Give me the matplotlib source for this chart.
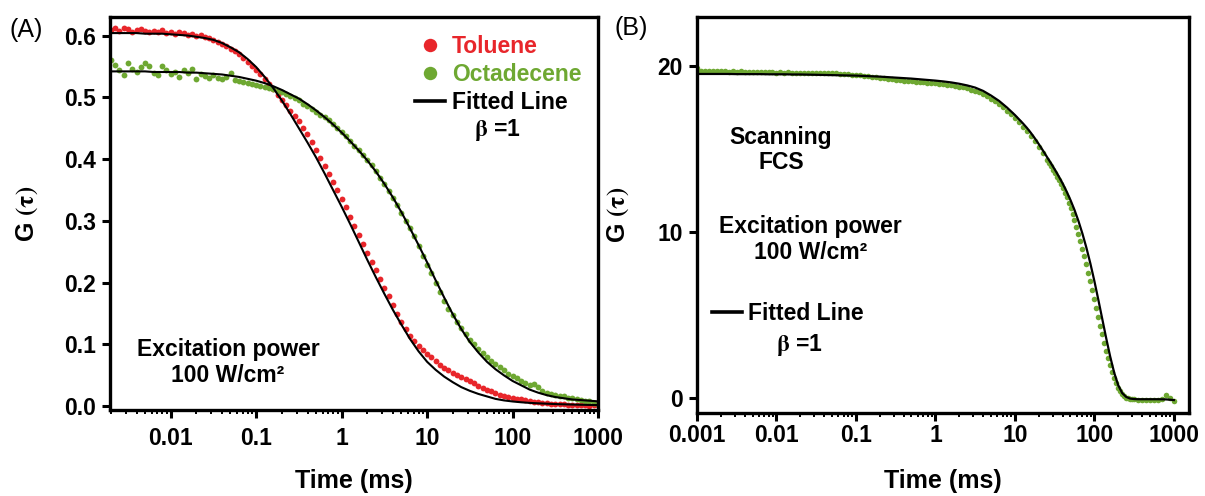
import matplotlib.pyplot as plt
import numpy as np
from matplotlib.ticker import FixedLocator, LogLocator, NullFormatter

plt.rcParams['font.family'] = 'Liberation Sans'
plt.rcParams['font.weight'] = 'bold'
plt.rcParams['axes.labelweight'] = 'bold'
plt.rcParams['mathtext.fontset'] = 'stix'

RED = '#e8262b'
GREEN = '#6ea832'

# ---- (A) confocal FCS, log10 of lag time in ms ----
lag_a_log = [
    -2.70, -2.65, -2.60, -2.55, -2.50, -2.45, -2.40, -2.35, -2.30, -2.25,
    -2.20, -2.15, -2.10, -2.05, -2.00, -1.95, -1.90, -1.85, -1.80, -1.75,
    -1.70, -1.65, -1.60, -1.55, -1.50, -1.45, -1.40, -1.35, -1.30, -1.25,
    -1.20, -1.15, -1.10, -1.05, -1.00, -0.95, -0.90, -0.85, -0.80, -0.75,
    -0.70, -0.65, -0.60, -0.55, -0.50, -0.45, -0.40, -0.35, -0.30, -0.25,
    -0.20, -0.15, -0.10, -0.05, 0.00, 0.05, 0.10, 0.15, 0.20, 0.25,
    0.30, 0.35, 0.40, 0.45, 0.50, 0.55, 0.60, 0.65, 0.70, 0.75,
    0.80, 0.85, 0.90, 0.95, 1.00, 1.05, 1.10, 1.15, 1.20, 1.25,
    1.30, 1.35, 1.40, 1.45, 1.50, 1.55, 1.60, 1.65, 1.70, 1.75,
    1.80, 1.85, 1.90, 1.95, 2.00, 2.05, 2.10, 2.15, 2.20, 2.25,
    2.30, 2.35, 2.40, 2.45, 2.50, 2.55, 2.60, 2.65, 2.70, 2.75,
    2.80, 2.85, 2.90, 2.95, 3.00]
toluene_g = [
    0.609, 0.612, 0.608, 0.613, 0.610, 0.606, 0.609, 0.611, 0.607, 0.605,
    0.608, 0.606, 0.609, 0.604, 0.605, 0.603, 0.606, 0.604, 0.601, 0.602,
    0.600, 0.601, 0.598, 0.596, 0.593, 0.590, 0.587, 0.583, 0.579, 0.575,
    0.570, 0.564, 0.558, 0.551, 0.544, 0.537, 0.529, 0.521, 0.513, 0.504,
    0.495, 0.487, 0.478, 0.470, 0.461, 0.451, 0.440, 0.428, 0.415, 0.402,
    0.389, 0.376, 0.363, 0.350, 0.336, 0.322, 0.307, 0.292, 0.277, 0.262,
    0.248, 0.234, 0.220, 0.206, 0.192, 0.178, 0.164, 0.150, 0.137, 0.125,
    0.114, 0.105, 0.098, 0.091, 0.085, 0.079, 0.073, 0.067, 0.062, 0.058,
    0.054, 0.050, 0.047, 0.044, 0.041, 0.037, 0.033, 0.030, 0.027, 0.024,
    0.021, 0.019, 0.017, 0.015, 0.014, 0.012, 0.011, 0.0095, 0.0085, 0.0075,
    0.0065, 0.0055, 0.0050, 0.0045, 0.0040, 0.0032, 0.0030, 0.0025, 0.0020, 0.0018,
    0.0015, 0.0017, 0.0012, 0.0018, 0.0022]
octadecene_g = [
    0.561, 0.552, 0.545, 0.536, 0.556, 0.546, 0.541, 0.549, 0.556, 0.551,
    0.540, 0.536, 0.550, 0.545, 0.538, 0.541, 0.533, 0.544, 0.540, 0.546,
    0.529, 0.537, 0.534, 0.532, 0.536, 0.531, 0.530, 0.533, 0.539, 0.528,
    0.527, 0.525, 0.523, 0.522, 0.520, 0.519, 0.517, 0.515, 0.513, 0.511,
    0.508, 0.505, 0.502, 0.499, 0.495, 0.490, 0.486, 0.481, 0.476, 0.471,
    0.468, 0.463, 0.457, 0.451, 0.444, 0.437, 0.430, 0.422, 0.415, 0.407,
    0.399, 0.390, 0.380, 0.370, 0.359, 0.348, 0.337, 0.325, 0.313, 0.300,
    0.288, 0.275, 0.260, 0.244, 0.229, 0.215, 0.200, 0.185, 0.170, 0.158,
    0.147, 0.136, 0.126, 0.117, 0.108, 0.100, 0.093, 0.086, 0.080, 0.074,
    0.068, 0.063, 0.058, 0.053, 0.049, 0.045, 0.041, 0.037, 0.034, 0.036,
    0.031, 0.025, 0.022, 0.020, 0.019, 0.017, 0.016, 0.014, 0.013, 0.011,
    0.010, 0.009, 0.008, 0.006, 0.004]

fit_a_log = [
    -2.7, -2.6, -2.5, -2.4, -2.3, -2.2, -2.1, -2.0, -1.9, -1.8,
    -1.7, -1.6, -1.5, -1.4, -1.3, -1.2, -1.1, -1.0, -0.9, -0.8,
    -0.7, -0.6, -0.5, -0.4, -0.3, -0.2, -0.1, 0.0, 0.1, 0.2,
    0.3, 0.4, 0.5, 0.6, 0.7, 0.8, 0.9, 1.0, 1.1, 1.2,
    1.3, 1.4, 1.5, 1.6, 1.7, 1.8, 1.9, 2.0, 2.1, 2.2,
    2.3, 2.4, 2.5, 2.6, 2.7, 2.8, 2.9, 3.0]
toluene_fit = [
    0.604, 0.604, 0.604, 0.604, 0.603, 0.603, 0.603, 0.602, 0.601, 0.600,
    0.598, 0.596, 0.593, 0.588, 0.581, 0.573, 0.562, 0.549, 0.533, 0.515,
    0.495, 0.473, 0.450, 0.427, 0.403, 0.377, 0.350, 0.323, 0.295, 0.266,
    0.237, 0.209, 0.182, 0.156, 0.132, 0.109, 0.089, 0.072, 0.059, 0.048,
    0.039, 0.031, 0.025, 0.020, 0.016, 0.012, 0.0095, 0.0078, 0.0065, 0.0055,
    0.0048, 0.0042, 0.0036, 0.0032, 0.0028, 0.0025, 0.0022, 0.0020]
octadecene_fit = [
    0.542, 0.542, 0.542, 0.542, 0.542, 0.541, 0.541, 0.541, 0.541, 0.540,
    0.540, 0.539, 0.538, 0.537, 0.535, 0.533, 0.530, 0.527, 0.523, 0.518,
    0.512, 0.505, 0.498, 0.489, 0.479, 0.468, 0.456, 0.443, 0.429, 0.414,
    0.398, 0.380, 0.360, 0.338, 0.314, 0.288, 0.261, 0.233, 0.204, 0.176,
    0.149, 0.125, 0.104, 0.087, 0.072, 0.060, 0.050, 0.041, 0.034, 0.027,
    0.022, 0.018, 0.015, 0.013, 0.011, 0.010, 0.009, 0.008]

# ---- (B) scanning FCS ----
lag_b_log = [
    -3.00, -2.95, -2.90, -2.85, -2.80, -2.75, -2.70, -2.65, -2.60, -2.55,
    -2.50, -2.45, -2.40, -2.35, -2.30, -2.25, -2.20, -2.15, -2.10, -2.05,
    -2.00, -1.95, -1.90, -1.85, -1.80, -1.75, -1.70, -1.65, -1.60, -1.55,
    -1.50, -1.45, -1.40, -1.35, -1.30, -1.25, -1.20, -1.15, -1.10, -1.05,
    -1.00, -0.95, -0.90, -0.85, -0.80, -0.75, -0.70, -0.65, -0.60, -0.55,
    -0.50, -0.45, -0.40, -0.35, -0.30, -0.25, -0.20, -0.15, -0.10, -0.05,
    0.00, 0.05, 0.10, 0.15, 0.20, 0.25, 0.30, 0.35, 0.40, 0.45,
    0.50, 0.55, 0.60, 0.65, 0.70, 0.75, 0.80, 0.85, 0.90, 0.95,
    1.00, 1.05, 1.10, 1.15, 1.20, 1.25, 1.30, 1.35, 1.40,
    1.425, 1.450, 1.475, 1.500, 1.525, 1.550, 1.575, 1.600, 1.625, 1.650,
    1.675, 1.700, 1.725, 1.750, 1.775, 1.800, 1.825, 1.850, 1.875, 1.900,
    1.925, 1.950, 1.975, 2.000, 2.025, 2.050, 2.075, 2.100, 2.125, 2.150,
    2.175, 2.200, 2.225, 2.250, 2.275, 2.300, 2.325, 2.350, 2.375, 2.400,
    2.425, 2.450, 2.475, 2.500,
    2.55, 2.60, 2.65, 2.70, 2.75, 2.80, 2.85, 2.90, 2.95, 3.00]
scanning_g = [
    19.85, 19.72, 19.70, 19.71, 19.68, 19.70, 19.67, 19.69, 19.66, 19.68,
    19.65, 19.67, 19.64, 19.66, 19.63, 19.65, 19.62, 19.64, 19.61, 19.63,
    19.60, 19.62, 19.60, 19.61, 19.59, 19.60, 19.58, 19.59, 19.57, 19.58,
    19.56, 19.57, 19.55, 19.56, 19.55, 19.55, 19.53, 19.51, 19.49, 19.47,
    19.45, 19.43, 19.40, 19.37, 19.34, 19.31, 19.28, 19.25, 19.22, 19.19,
    19.16, 19.13, 19.11, 19.09, 19.07, 19.05, 19.03, 19.01, 19.00, 18.98,
    18.96, 18.94, 18.91, 18.88, 18.84, 18.80, 18.76, 18.71, 18.65, 18.58,
    18.51, 18.42, 18.32, 18.19, 18.04, 17.88, 17.70, 17.51, 17.30, 17.08,
    16.85, 16.60, 16.35, 16.07, 15.78, 15.46, 15.12, 14.75, 14.36,
    14.16, 13.96, 13.76, 13.55, 13.33, 13.12, 12.89, 12.64, 12.37, 12.08,
    11.77, 11.44, 11.09, 10.71, 10.31, 9.89, 9.45, 9.00, 8.53, 8.05,
    7.55, 7.03, 6.50, 5.96, 5.42, 4.88, 4.35, 3.84, 3.34, 2.86,
    2.40, 1.97, 1.57, 1.21, 0.89, 0.62, 0.40, 0.23, 0.11, 0.03,
    -0.02, -0.05, -0.07, -0.08,
    -0.09, -0.10, -0.10, -0.09, -0.10, -0.09, -0.05, 0.18, 0.02, -0.16]

fit_b_log = [
    -3.0, -2.9, -2.8, -2.7, -2.6, -2.5, -2.4, -2.3, -2.2, -2.1,
    -2.0, -1.9, -1.8, -1.7, -1.6, -1.5, -1.4, -1.3, -1.2, -1.1,
    -1.0, -0.9, -0.8, -0.7, -0.6, -0.5, -0.4, -0.3, -0.2, -0.1,
    0.0, 0.1, 0.2, 0.3, 0.4, 0.5, 0.6, 0.7, 0.8, 0.9, 1.0,
    1.05, 1.10, 1.15, 1.20, 1.25, 1.30, 1.35, 1.40, 1.45, 1.50,
    1.55, 1.60, 1.65, 1.70, 1.75, 1.80, 1.85, 1.90, 1.95, 2.00,
    2.05, 2.10, 2.15, 2.20, 2.25, 2.30, 2.35, 2.40, 2.45, 2.50,
    2.55, 2.60, 2.7, 2.8, 2.9, 3.0]
scanning_fit = [
    19.52, 19.52, 19.52, 19.52, 19.52, 19.51, 19.51, 19.51, 19.51, 19.50,
    19.50, 19.50, 19.49, 19.49, 19.48, 19.47, 19.46, 19.45, 19.44, 19.43,
    19.42, 19.40, 19.38, 19.36, 19.33, 19.30, 19.27, 19.24, 19.20, 19.16,
    19.12, 19.07, 19.01, 18.93, 18.83, 18.70, 18.50, 18.22, 17.90, 17.50, 17.05,
    16.80, 16.55, 16.28, 15.98, 15.65, 15.30, 14.93, 14.55, 14.17, 13.78,
    13.37, 12.93, 12.45, 11.92, 11.33, 10.66, 9.90, 9.05, 8.10, 7.05,
    5.92, 4.75, 3.58, 2.48, 1.52, 0.78, 0.30, 0.07, -0.03, -0.06,
    -0.07, -0.07, -0.07, -0.07, -0.08, -0.12]


def lag(logs):
    return 10.0 ** np.asarray(logs)


def style_axes(ax, xticks, xpad):
    for spine in ax.spines.values():
        spine.set_linewidth(2.4)
    ax.set_xscale('log')
    ax.xaxis.set_major_locator(FixedLocator(xticks))
    ax.set_xticklabels([f'{t:g}' for t in xticks])
    ax.xaxis.set_minor_locator(LogLocator(base=10, subs=np.arange(2, 10)))
    ax.xaxis.set_minor_formatter(NullFormatter())
    ax.tick_params(which='major', direction='out', length=6, width=2.2, labelsize=16.5)
    ax.tick_params(axis='x', which='major', pad=xpad)
    ax.tick_params(axis='y', which='major', pad=4)
    ax.tick_params(axis='x', which='minor', direction='out', length=3, width=1.4)
    ax.set_xlabel('Time (ms)', fontsize=18, fontweight='bold')
    ax.set_ylabel(r'G $\mathrm{(\tau)}$', fontsize=18, fontweight='bold')


def thicken_handles(leg):
    for line in leg.get_lines():
        if line.get_linestyle() != 'None':
            line.set_linewidth(2.6)


fig = plt.figure(figsize=(12.05, 4.96), dpi=100)
ax_a = fig.add_axes([0.0913, 0.1734, 0.405, 0.7923])
ax_b = fig.add_axes([0.5784, 0.1673, 0.4083, 0.7984])

# panel A
ax_a.plot(lag(lag_a_log), toluene_g, 'o', ms=4.2, mew=0, color=RED, label='Toluene')
ax_a.plot(lag(lag_a_log), octadecene_g, 'o', ms=4.2, mew=0, color=GREEN, label='Octadecene')
ax_a.plot(lag(fit_a_log), toluene_fit, color='black', lw=1.5, label='Fitted Line')
ax_a.plot(lag(fit_a_log), octadecene_fit, color='black', lw=1.5)

style_axes(ax_a, [0.01, 0.1, 1, 10, 100, 1000], xpad=6)
ax_a.set_xlim(0.00195, 1000)
ax_a.set_ylim(-0.006, 0.630)
ax_a.set_yticks(np.arange(0, 0.61, 0.1))
ax_a.set_yticklabels([f'{v:.1f}' for v in np.arange(0, 0.61, 0.1)])
ax_a.yaxis.set_label_coords(-0.143, 0.5)
ax_a.xaxis.set_label_coords(0.5, -0.15)

leg_a = ax_a.legend(loc='upper left', bbox_to_anchor=(0.625, 0.955), frameon=False,
                    fontsize=16.5, markerscale=2.3, handlelength=1.3, handletextpad=0.3,
                    labelspacing=0.22, borderpad=0, borderaxespad=0)
for txt, col in zip(leg_a.get_texts(), [RED, GREEN, 'black']):
    txt.set_color(col)
thicken_handles(leg_a)
ax_a.text(0.793, 0.712, r'$\mathrm{\beta}$ =1', transform=ax_a.transAxes,
          ha='center', va='center', fontsize=16.5)
ax_a.text(0.242, 0.12, 'Excitation power\n100 W/cm²', transform=ax_a.transAxes,
          ha='center', va='center', fontsize=16.5, linespacing=1.15)

# panel B
ax_b.plot(lag(lag_b_log), scanning_g, 'o', ms=4.0, mew=0, color=GREEN)
ax_b.plot(lag(fit_b_log), scanning_fit, color='black', lw=1.6, label='Fitted Line')

style_axes(ax_b, [0.001, 0.01, 0.1, 1, 10, 100, 1000], xpad=2)
ax_b.set_xlim(0.001, 1550)
ax_b.set_ylim(-0.9, 22.95)
ax_b.set_yticks([0, 10, 20])
ax_b.yaxis.set_label_coords(-0.134, 0.5)
ax_b.xaxis.set_label_coords(0.5, -0.142)

leg_b = ax_b.legend(loc='upper left', bbox_to_anchor=(0.03, 0.28), frameon=False,
                    fontsize=16.5, handlelength=1.3, handletextpad=0.3,
                    borderpad=0, borderaxespad=0)
thicken_handles(leg_b)
ax_b.text(0.207, 0.172, r'$\mathrm{\beta}$ =1', transform=ax_b.transAxes,
          ha='center', va='center', fontsize=16.5)
ax_b.text(0.171, 0.664, 'Scanning\nFCS', transform=ax_b.transAxes,
          ha='center', va='center', fontsize=16.5, linespacing=1.15)
ax_b.text(0.230, 0.439, 'Excitation power\n100 W/cm²', transform=ax_b.transAxes,
          ha='center', va='center', fontsize=16.5, linespacing=1.15)

fig.text(0.0215, 0.94, '(A)', fontsize=18, fontweight='normal', ha='center', va='center')
fig.text(0.5237, 0.944, '(B)', fontsize=18, fontweight='normal', ha='center', va='center')

fig.savefig('out.png', dpi=100)
